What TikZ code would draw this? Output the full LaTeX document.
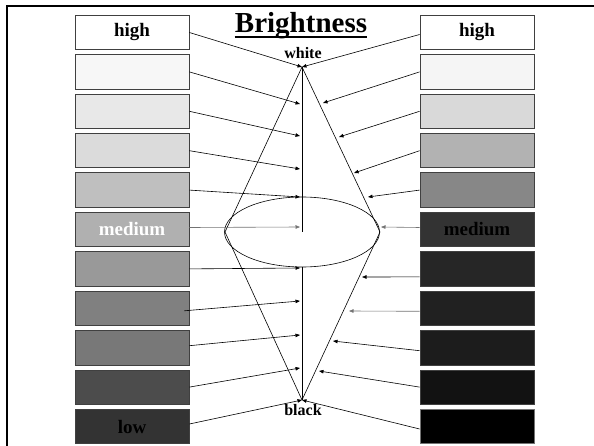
\documentclass[tikz,border=0pt]{standalone}
\usepackage{fontspec}
\setmainfont{Liberation Serif}
\usetikzlibrary{positioning,arrows.meta}
\tikzset{
  tone/.style={rectangle, draw=black!75, line width=0.8pt, minimum width=114pt,
               minimum height=34.4pt, inner sep=0pt, font=\fontsize{19}{22}\selectfont\bfseries},
  tag/.style={inner sep=0pt, anchor=base, font=\fontsize{16}{18}\selectfont\bfseries},
  arr/.style={-{Triangle[length=4.5pt,width=3.5pt]}, line width=0.6pt},
  cone/.style={line width=0.6pt},
}

\begin{document}
\begin{tikzpicture}[x=1pt,y=-1pt,node distance=4.2pt]
    \useasboundingbox (0,0) rectangle (594,446);
    \draw[line width=2pt] (7,446) -- (7,6) -- (594,6);

    % title and ends of the axis
    \node[inner sep=0pt, anchor=base, font=\fontsize{29}{32}\selectfont\bfseries] (title) at (301,32.3) {Brightness};
    \draw[line width=2pt] ([yshift=-4.5pt]title.base west) -- ([yshift=-4.5pt]title.base east);
    \node[tag] (white) at (303,58.3) {white};
    \node[tag] (black) at (303,415) {black};

    % left scale
    \node[tone, fill=white] (L1) at (132,32.5) {high};
    \node[tone, fill=black!3, below=of L1] (L2) {};
    \node[tone, fill=black!9, below=of L2] (L3) {};
    \node[tone, fill=black!14, below=of L3] (L4) {};
    \node[tone, fill=black!25, below=of L4] (L5) {};
    \node[tone, fill=black!31, text=white, below=of L5] (L6) {medium};
    \node[tone, fill=black!40, below=of L6] (L7) {};
    \node[tone, fill=black!50, below=of L7] (L8) {};
    \node[tone, fill=black!53, below=of L8] (L9) {};
    \node[tone, fill=black!70, below=of L9] (L10) {};
    \node[tone, fill=black!80, below=of L10] (L11) {low};

    % right scale
    \node[tone, fill=white] (R1) at (477,32.5) {high};
    \node[tone, fill=black!4, below=of R1] (R2) {};
    \node[tone, fill=black!15, below=of R2] (R3) {};
    \node[tone, fill=black!30, below=of R3] (R4) {};
    \node[tone, fill=black!47, below=of R4] (R5) {};
    \node[tone, fill=black!80, below=of R5] (R6) {medium};
    \node[tone, fill=black!85, below=of R6] (R7) {};
    \node[tone, fill=black!87, below=of R7] (R8) {};
    \node[tone, fill=black!89, below=of R8] (R9) {};
    \node[tone, fill=black!93, below=of R9] (R10) {};
    \node[tone, fill=black, draw=black!55, below=of R10] (R11) {};

    % double cone
    \coordinate (W) at (302,67);
    \coordinate (Bk) at (302,400);
    \coordinate (C) at (302,232);
    \coordinate (Cb) at (302,267);
    \coordinate (EL) at (225,232);
    \coordinate (ER) at (380,232);
    \draw[cone] (C) ellipse [x radius=77.5, y radius=35];
    \draw[cone] (W) -- (EL) -- (Bk);
    \draw[cone] (W) -- (ER) -- (Bk);
    \draw[line width=0.8pt] (W) -- (C);
    \draw[line width=0.8pt] (Cb) -- (Bk);

    % points on the axis
    \coordinate (ax2) at (300,104);
    \coordinate (ax3) at (300,136);
    \coordinate (ax4) at (300,169);
    \coordinate (ax5) at (300,197);
    \coordinate (ax6) at (300,227);
    \coordinate (ax7) at (300,268);
    \coordinate (ax8) at (300,301);
    \coordinate (ax9) at (300,335);
    \coordinate (ax10) at (300,368);

    % points on the rim
    \coordinate (rim2) at (323,103);
    \coordinate (rim3) at (339,137);
    \coordinate (rim4) at (354,173);
    \coordinate (rim5) at (368,197);
    \coordinate (rim6) at (381,227);
    \coordinate (rim7) at (362,277);
    \coordinate (rim8) at (349,311);
    \coordinate (rim9) at (333,341);
    \coordinate (rim10) at (319,371);

    \draw[arr] (L1.east) -- (W);
    \draw[arr] (L2.east) -- (ax2);
    \draw[arr] (L3.east) -- (ax3);
    \draw[arr] (L4.east) -- (ax4);
    \draw[arr] (L5.east) -- (ax5);
    \draw[arr, draw=black!55] ([yshift=2pt]L6.east) -- (ax6);
    \draw[arr] (L7.east) -- (ax7);
    \draw[arr] ([xshift=-5pt,yshift=-2.5pt]L8.east) -- (ax8);
    \draw[arr] ([yshift=2pt]L9.east) -- (ax9);
    \draw[arr] (L10.east) -- (ax10);
    \draw[arr] ([yshift=2.5pt]L11.east) -- (Bk);

    \draw[arr] ([yshift=-2pt]R1.west) -- (W);
    \draw[arr] (R2.west) -- (rim2);
    \draw[arr] (R3.west) -- (rim3);
    \draw[arr] (R4.west) -- (rim4);
    \draw[arr] (R5.west) -- (rim5);
    \draw[arr, draw=black!55] ([yshift=2pt]R6.west) -- (rim6);
    \draw[arr] ([yshift=-8pt]R7.west) -- (rim7);
    \draw[arr, draw=black!55] ([yshift=-3pt]R8.west) -- (rim8);
    \draw[arr] ([yshift=-3pt]R9.west) -- (rim9);
    \draw[arr] (R10.west) -- (rim10);
    \draw[arr] ([yshift=-2.5pt]R11.west) -- (Bk);
\end{tikzpicture}
\end{document}
